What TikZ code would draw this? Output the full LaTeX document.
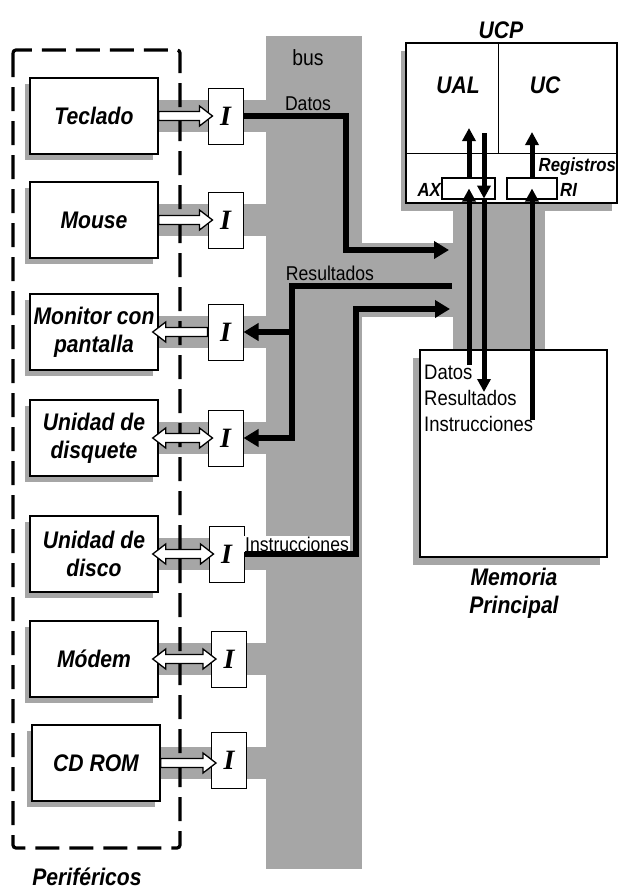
\documentclass[tikz,border=0pt]{standalone}
\usepackage{fontspec}
\setmainfont{Liberation Sans}[FakeStretch=0.88]
\newfontfamily\serifI{Liberation Serif}
\usetikzlibrary{arrows.meta,calc,shadows}
\newcommand{\hollowRight}[2]{\draw[hollow] let \p1=(#1), \p2=(#2) in
 (\x1,\y1+4.5pt) -- (\x2-8pt,\y1+4.5pt) -- (\x2-8pt,\y1+10pt) -- (\x2+5pt,\y1) -- (\x2-8pt,\y1-10pt) -- (\x2-8pt,\y1-4.5pt) -- (\x1,\y1-4.5pt) -- cycle;}
\newcommand{\hollowLeft}[2]{\draw[hollow] let \p1=(#1), \p2=(#2) in
 (\x2,\y1+4.5pt) -- (\x1+7pt,\y1+4.5pt) -- (\x1+7pt,\y1+10pt) -- (\x1-6pt,\y1) -- (\x1+7pt,\y1-10pt) -- (\x1+7pt,\y1-4.5pt) -- (\x2,\y1-4.5pt) -- cycle;}
\newcommand{\hollowBoth}[2]{\draw[hollow] let \p1=(#1), \p2=(#2) in
 (\x1-6pt,\y1) -- (\x1+7pt,\y1+10pt) -- (\x1+7pt,\y1+4.5pt) -- (\x2-8pt,\y1+4.5pt) -- (\x2-8pt,\y1+10pt) -- (\x2+5pt,\y1) -- (\x2-8pt,\y1-10pt) -- (\x2-8pt,\y1-4.5pt) -- (\x1+7pt,\y1-4.5pt) -- (\x1+7pt,\y1-10pt) -- cycle;}
\begin{document}
\begin{tikzpicture}[x=1pt,y=-1pt,
  greyc/.style={fill=black!35,draw=none},
  shad/.style={drop shadow={shadow xshift=-5pt,shadow yshift=-6pt,fill=black!35,opacity=1}},
  bi/.style={font=\fontsize{24}{28}\selectfont\bfseries\itshape},
  pbox/.style={bi,draw,line width=1.4pt,fill=white,shad,minimum width=128pt,minimum height=76pt,inner sep=0pt,align=center},
  ibox/.style={draw,line width=1pt,fill=white,minimum width=35pt,minimum height=56pt,inner sep=0pt,font=\fontsize{28}{28}\selectfont\serifI\bfseries\itshape},
  hollow/.style={draw,fill=white,line width=1.3pt,line join=miter},
  busline/.style={line width=6pt,-{Triangle[length=15pt,width=17pt]}},
  cpuline/.style={line width=5pt,-{Triangle[length=13pt,width=13pt]}},
  buslab/.style={font=\fontsize{20}{20}\selectfont,inner sep=0pt},
  memtxt/.style={font=\fontsize{21}{26}\selectfont,inner sep=0pt,align=left},
  perdash/.style={draw,line width=3.2pt,dash pattern=on 24pt off 10pt,rounded corners=3pt}
]
\useasboundingbox (0,0) rectangle (620,891);
% grey bus and bands
\fill[greyc] (266,36) rectangle (362,869);
\foreach \yy in {116,220,332,438,554,659,763}{
  \fill[greyc] (158,\yy-16) rectangle (266,\yy+16);
}
\fill[greyc] (362,243) rectangle (455,317);
\fill[greyc] (453,205) rectangle (545,352);
% dashed peripherals frame
\draw[perdash] (13,50) rectangle (180,848);
\node[bi,inner sep=0pt] (perlab) at (87,877) {Periféricos};
% peripheral boxes
\node[pbox] (p1) at (94,116) {Teclado};
\node[pbox] (p2) at (94,220) {Mouse};
\node[pbox] (p3) at (94,332) {Monitor con\\pantalla};
\node[pbox] (p4) at (94,438) {Unidad de\\disquete};
\node[pbox] (p5) at (94,554) {Unidad de\\disco};
\node[pbox] (p6) at (94,659) {Módem};
\node[pbox] (p7) at (96,763) {CD ROM};
% interfaces
\node[ibox] (i1) at (225.5,116) {I};
\node[ibox] (i2) at (225.5,220) {I};
\node[ibox] (i3) at (225.5,332) {I};
\node[ibox] (i4) at (225.5,438) {I};
\node[ibox] (i5) at (226.5,554) {I};
\node[ibox] (i6) at (229,659) {I};
\node[ibox] (i7) at (229,760) {I};
% hollow arrows
\hollowRight{p1.east}{i1.west}
\hollowRight{p2.east}{i2.west}
\hollowLeft{p3.east}{i3.west}
\hollowBoth{p4.east}{i4.west}
\hollowBoth{p5.east}{i5.west}
\hollowBoth{p6.east}{i6.west}
\hollowRight{p7.east}{i7.west}
% UCP
\node[draw,line width=1.5pt,fill=white,drop shadow={shadow xshift=-5pt,shadow yshift=-8pt,fill=black!35,opacity=1},minimum width=211pt,minimum height=160pt,inner sep=0pt] (ucp) at (511.5,123) {};
\node[bi] (ucplab) at (501,30) {UCP};
\draw[line width=0.8pt] (406,153) -- (617,153);
\draw[line width=0.8pt] (498,43) -- (498,153);
\node[bi] (ual) at (458,85) {UAL};
\node[bi] (uc) at (545,85) {UC};
\node[draw,line width=1.2pt,fill=white,minimum width=53pt,minimum height=21pt,inner sep=0pt] (ax) at (468.5,188.5) {};
\node[draw,line width=1.2pt,fill=white,minimum width=50pt,minimum height=21pt,inner sep=0pt] (ri) at (532,188.5) {};
\node[font=\fontsize{19}{19}\selectfont\bfseries\itshape,inner sep=0pt,anchor=east] (axlab) at (441,190) {AX};
\node[font=\fontsize{19}{19}\selectfont\bfseries\itshape,inner sep=0pt,anchor=west] (rilab) at (560,190) {RI};
\node[font=\fontsize{19}{19}\selectfont\bfseries\itshape,inner sep=0pt,anchor=east] (reglab) at (616,167) {Registros};
% Memory
\node[draw,line width=1.5pt,fill=white,drop shadow={shadow xshift=-7pt,shadow yshift=-8pt,fill=black!35,opacity=1},minimum width=187pt,minimum height=207pt,inner sep=0pt] (mem) at (513.5,453.5) {};
\node[memtxt,anchor=north west] (memtxt) at (424,365) {Datos\\Resultados\\Instrucciones};
\node[bi,align=center] (memlab) at (514,593) {Memoria\\Principal};
% bus labels
\node[font=\fontsize{22}{22}\selectfont,inner sep=0pt] (buslab) at (308,58) {bus};
\node[buslab,anchor=base] (datlab) at (308,110) {Datos};
\node[buslab,anchor=base] (reslab) at (330,280) {Resultados};
\node[buslab,anchor=base,fill=white,inner sep=1pt] (inslab) at (297,551) {Instrucciones};
% bus connectors
\coordinate (dEnd) at (449,250);
\coordinate (rStart) at (452,286);
\coordinate (rJ) at (292,332);
\coordinate (iEnd) at (450,309);
\draw[busline] (i1.east) -| (346,250) -- (dEnd);
\draw[busline] (rStart) -| (292,438) -- (i4.east);
\draw[busline] (rJ) -- (i3.east);
\draw[busline] (i5.east) -| (356,309) -- (iEnd);
% UCP <-> memory
\coordinate (mD) at (469,365);
\coordinate (mR) at (484,392);
\coordinate (mI) at (532,420);
\coordinate (ualD) at (469,128);
\coordinate (ualR) at (484,133);
\coordinate (ucI) at (532,132);
\draw[cpuline] (mD) -- (mD |- ax.center);
\draw[cpuline] (mD |- ax.north) -- (ualD);
\draw[cpuline] (ualR) -- ($(ualR |- ax.south)+(0,-1)$);
\draw[cpuline] (ualR |- ax.south) -- (mR);
\draw[cpuline] (mI) -- (mI |- ri.center);
\draw[cpuline] (mI |- ri.north) -- (ucI);
\end{tikzpicture}
\end{document}
